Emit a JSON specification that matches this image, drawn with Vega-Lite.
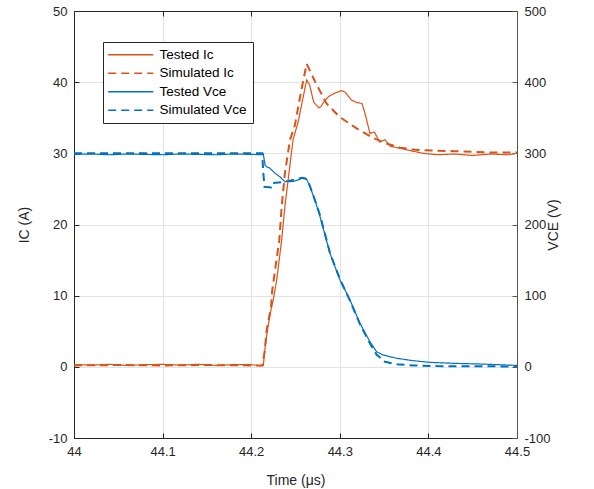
{
  "$schema": "https://vega.github.io/schema/vega-lite/v6.json",
  "width": 443,
  "height": 427,
  "autosize": "none",
  "padding": {"left": 74, "top": 11, "right": 77, "bottom": 51},
  "background": "white",
  "config": {
    "view": {"stroke": "#262626", "strokeWidth": 1},
    "axis": {
      "labelFont": "Liberation Sans", "labelFontSize": 13, "labelColor": "#262626",
      "titleFont": "Liberation Sans", "titleFontSize": 14, "titleFontWeight": "normal", "titleColor": "#262626",
      "domainColor": "#262626", "tickColor": "#262626", "gridColor": "#e3e3e3",
      "tickSize": -5, "labelPadding": 12, "labelFlush": false,
      "labelExpr": "replace(datum.label, '\u2212', '-')"
    },
    "legend": {
      "orient": "none", "legendX": 29, "legendY": 31, "title": null,
      "symbolType": "M-4,0H4", "symbolSize": 127, "symbolStrokeWidth": 1.5,
      "symbolOffset": 15, "labelOffset": 22, "padding": 6, "rowPadding": 3.5,
      "strokeColor": "#262626", "fillColor": "white", "labelFontSize": 13.5,
      "labelFont": "Liberation Sans", "labelColor": "#000000", "cornerRadius": 0
    }
  },
  "datasets": {
    "ict": [
      {"t":44,"v":0.3},{"t":44.02,"v":0.25},{"t":44.04,"v":0.35},{"t":44.06,"v":0.2},{"t":44.08,"v":0.3},{"t":44.1,"v":0.35},{"t":44.12,"v":0.25},{"t":44.14,"v":0.35},{"t":44.16,"v":0.2},{"t":44.18,"v":0.3},{"t":44.2,"v":0.3},{"t":44.21,"v":0.15},{"t":44.2137,"v":0.2},{"t":44.2156,"v":2.6},{"t":44.2186,"v":5.4},{"t":44.2223,"v":8.0},{"t":44.2249,"v":9.4},{"t":44.2288,"v":12.2},{"t":44.2344,"v":17.8},{"t":44.238,"v":22.5},{"t":44.2426,"v":27.2},{"t":44.2472,"v":31.9},{"t":44.253,"v":34.4},{"t":44.258,"v":37.5},{"t":44.2626,"v":40.3},{"t":44.266,"v":39.6},{"t":44.2705,"v":37.2},{"t":44.2762,"v":36.4},{"t":44.2784,"v":36.5},{"t":44.2818,"v":37.2},{"t":44.2875,"v":38.0},{"t":44.295,"v":38.5},{"t":44.302,"v":38.8},{"t":44.306,"v":38.6},{"t":44.313,"v":37.5},{"t":44.318,"v":37.2},{"t":44.325,"v":37.0},{"t":44.3285,"v":35.6},{"t":44.334,"v":32.8},{"t":44.339,"v":33.0},{"t":44.345,"v":31.6},{"t":44.351,"v":31.9},{"t":44.357,"v":31.0},{"t":44.368,"v":30.7},{"t":44.379,"v":30.4},{"t":44.394,"v":30.0},{"t":44.41,"v":29.8},{"t":44.43,"v":29.9},{"t":44.45,"v":29.7},{"t":44.47,"v":29.9},{"t":44.49,"v":29.8},{"t":44.5,"v":30.0}
    ],
    "ics": [
      {"t":44,"v":0.2},{"t":44.05,"v":0.25},{"t":44.1,"v":0.2},{"t":44.15,"v":0.25},{"t":44.2,"v":0.2},{"t":44.2125,"v":0.2},{"t":44.215,"v":2.0},{"t":44.2175,"v":5.2},{"t":44.2223,"v":8.3},{"t":44.2238,"v":10.8},{"t":44.2317,"v":17.8},{"t":44.2344,"v":22.5},{"t":44.238,"v":27.2},{"t":44.2438,"v":31.9},{"t":44.2494,"v":34.0},{"t":44.256,"v":38.5},{"t":44.2626,"v":42.6},{"t":44.272,"v":40.1},{"t":44.285,"v":37.0},{"t":44.3,"v":35.1},{"t":44.319,"v":33.5},{"t":44.337,"v":32.2},{"t":44.352,"v":31.4},{"t":44.368,"v":30.8},{"t":44.385,"v":30.5},{"t":44.405,"v":30.4},{"t":44.43,"v":30.3},{"t":44.45,"v":30.2},{"t":44.475,"v":30.1},{"t":44.5,"v":30.1}
    ],
    "vt": [
      {"t":44,"v":298.5},{"t":44.02,"v":299},{"t":44.04,"v":298},{"t":44.06,"v":299},{"t":44.08,"v":298.5},{"t":44.1,"v":298},{"t":44.12,"v":299},{"t":44.14,"v":298.5},{"t":44.16,"v":298},{"t":44.18,"v":299},{"t":44.2,"v":298.5},{"t":44.2125,"v":298},{"t":44.2137,"v":299},{"t":44.2156,"v":283.5},{"t":44.2175,"v":281},{"t":44.2213,"v":279},{"t":44.2269,"v":272},{"t":44.2325,"v":267},{"t":44.2381,"v":260},{"t":44.2475,"v":260.5},{"t":44.2551,"v":263.5},{"t":44.2589,"v":266},{"t":44.2626,"v":263.5},{"t":44.2664,"v":253},{"t":44.272,"v":234},{"t":44.2777,"v":211},{"t":44.2889,"v":159.5},{"t":44.3002,"v":122},{"t":44.3115,"v":94},{"t":44.3228,"v":61},{"t":44.334,"v":35.3},{"t":44.3416,"v":21},{"t":44.3491,"v":16.6},{"t":44.3642,"v":12},{"t":44.383,"v":8.6},{"t":44.4018,"v":6.3},{"t":44.4282,"v":4.9},{"t":44.4582,"v":4},{"t":44.48,"v":3},{"t":44.5,"v":2}
    ],
    "vs": [
      {"t":44,"v":300},{"t":44.05,"v":300},{"t":44.1,"v":300},{"t":44.15,"v":300},{"t":44.2,"v":300},{"t":44.2125,"v":300},{"t":44.2135,"v":275},{"t":44.215,"v":253},{"t":44.2225,"v":252},{"t":44.2235,"v":258},{"t":44.237,"v":260},{"t":44.247,"v":262.5},{"t":44.257,"v":265.5},{"t":44.2626,"v":264},{"t":44.266,"v":255},{"t":44.272,"v":234},{"t":44.2777,"v":213},{"t":44.2889,"v":160},{"t":44.3002,"v":123},{"t":44.3115,"v":93},{"t":44.3228,"v":60},{"t":44.334,"v":33},{"t":44.3416,"v":17},{"t":44.3454,"v":13},{"t":44.3491,"v":7.5},{"t":44.3642,"v":3.5},{"t":44.383,"v":2},{"t":44.41,"v":1},{"t":44.45,"v":0.7},{"t":44.5,"v":0.6}
    ]
  },
  "layer": [
    {
      "encoding": {
        "x": {"field": "t", "type": "quantitative", "scale": {"domain": [44, 44.5], "nice": false, "zero": false},
              "axis": {"orient": "top", "labels": false, "title": null, "grid": false, "values": [44, 44.1, 44.2, 44.3, 44.4, 44.5]}},
        "y": {"field": "v", "type": "quantitative", "scale": {"domain": [-100, 500], "nice": false, "zero": false},
              "axis": {"orient": "right", "title": "VCE (V)", "titleAngle": 270, "grid": false, "values": [-100, 0, 100, 200, 300, 400, 500], "domainColor": "#555555", "tickColor": "#555555", "titlePadding": 10}}
      },
      "layer": [
        {
          "data": {"name": "vt"},
          "transform": [{"calculate": "'Tested Vce'", "as": "s"}],
          "mark": {"type": "line", "strokeWidth": 1.2},
          "encoding": {
            "color": {"field": "s", "type": "nominal", "scale": {"domain": ["Tested Ic", "Simulated Ic", "Tested Vce", "Simulated Vce"], "range": ["#D95319", "#D95319", "#0072BD", "#0072BD"]}},
            "strokeDash": {"field": "s", "type": "nominal", "scale": {"domain": ["Tested Ic", "Simulated Ic", "Tested Vce", "Simulated Vce"], "range": [[1, 0], [8, 5], [1, 0], [8, 5]]}}
          }
        },
        {
          "data": {"name": "vs"},
          "transform": [{"calculate": "'Simulated Vce'", "as": "s"}],
          "mark": {"type": "line", "strokeWidth": 2},
          "encoding": {
            "color": {"field": "s", "type": "nominal"},
            "strokeDash": {"field": "s", "type": "nominal"}
          }
        }
      ]
    },
    {
      "encoding": {
        "x": {"field": "t", "type": "quantitative", "title": "Time (μs)",
              "axis": {"orient": "bottom", "grid": true, "values": [44, 44.1, 44.2, 44.3, 44.4, 44.5], "format": "~f", "titlePadding": 15}},
        "y": {"field": "v", "type": "quantitative", "scale": {"domain": [-10, 50], "nice": false, "zero": false},
              "axis": {"orient": "left", "title": "IC (A)", "grid": true, "values": [-10, 0, 10, 20, 30, 40, 50], "titlePadding": 17}}
      },
      "layer": [
        {
          "data": {"name": "ict"},
          "transform": [{"calculate": "'Tested Ic'", "as": "s"}],
          "mark": {"type": "line", "strokeWidth": 1.2},
          "encoding": {
            "color": {"field": "s", "type": "nominal"},
            "strokeDash": {"field": "s", "type": "nominal"}
          }
        },
        {
          "data": {"name": "ics"},
          "transform": [{"calculate": "'Simulated Ic'", "as": "s"}],
          "mark": {"type": "line", "strokeWidth": 2},
          "encoding": {
            "color": {"field": "s", "type": "nominal"},
            "strokeDash": {"field": "s", "type": "nominal"}
          }
        }
      ]
    }
  ],
  "resolve": {"scale": {"y": "independent"}, "axis": {"x": "independent", "y": "independent"}}
}
